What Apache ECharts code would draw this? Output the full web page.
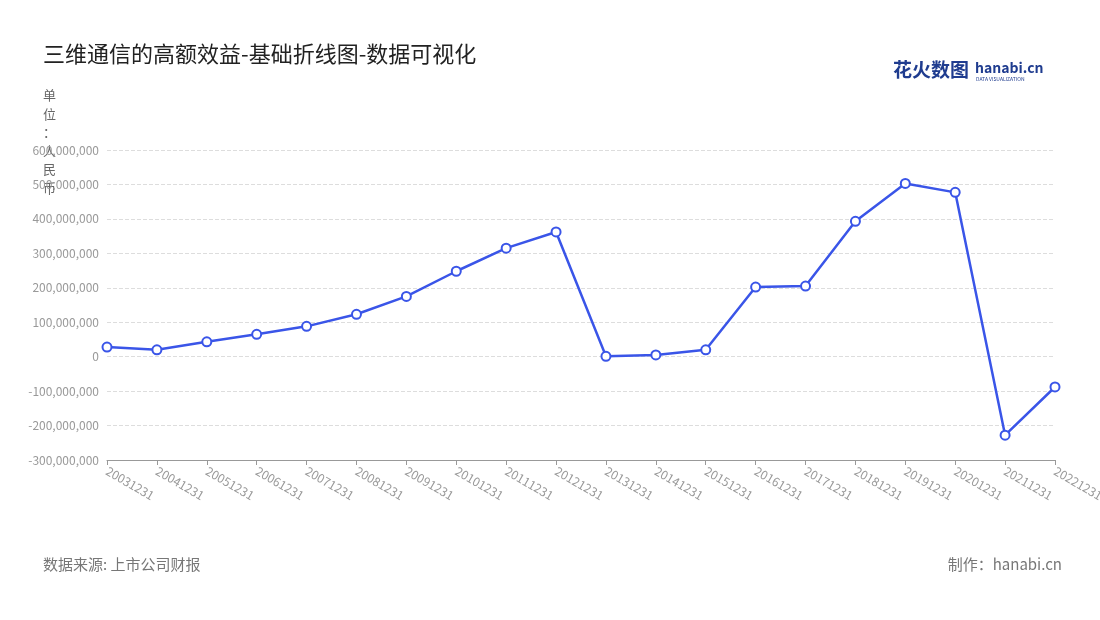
<!DOCTYPE html>
<html lang="zh">
<head>
    <meta charset="UTF-8">
    <title>三维通信的高额效益-基础折线图-数据可视化</title>
    <script src="https://cdn.jsdelivr.net/npm/echarts@6/dist/echarts.min.js"></script>
    <style>
        body { margin: 0; background: #fff; }
        #app { width: 1100px; height: 620px; }
    </style>
</head>
<body>
    <div id="app"></div>
    <script>
        var years = ['20031231', '20041231', '20051231', '20061231', '20071231', '20081231', '20091231',
            '20101231', '20111231', '20121231', '20131231', '20141231', '20151231', '20161231',
            '20171231', '20181231', '20191231', '20201231', '20211231', '20221231'];
        var profit = [28000000, 20000000, 43000000, 65000000, 88000000, 123000000, 175000000,
            248000000, 315000000, 362000000, 1000000, 5000000, 20000000, 202000000,
            205000000, 393000000, 503000000, 477000000, -228000000, -88000000];

        var myChart = echarts.init(document.getElementById('app'));
        var font = 'Noto Sans CJK SC';
        var option = {
            backgroundColor: '#fff',
            textStyle: { fontFamily: font },
            title: {
                text: '三维通信的高额效益-基础折线图-数据可视化',
                left: 38, top: 38,
                textStyle: { fontSize: 22, fontWeight: 'normal', color: '#222', fontFamily: font }
            },
            graphic: [
                { type: 'text', left: 43, top: 86, style: { text: '单\n位\n：\n人\n民\n币', fontSize: 13, lineHeight: 18.5, fill: '#666', fontFamily: font } },
                { type: 'text', left: 893, top: 60, style: { text: '花火数图', fontSize: 19, fontWeight: 'bold', fill: '#1f3c8f', fontFamily: font } },
                { type: 'text', left: 975, top: 61, style: { text: 'hanabi.cn', fontSize: 14, fontWeight: 'bold', fill: '#1f3c8f', fontFamily: font } },
                { type: 'text', left: 976, top: 77, style: { text: 'DATA VISUALIZATION', fontSize: 5, fill: '#1f3c8f', fontFamily: font } },
                { type: 'text', left: 43, top: 557, style: { text: '数据来源: 上市公司财报', fontSize: 15, fill: '#777', fontFamily: font } },
                { type: 'text', right: 38, top: 557, style: { text: '制作：hanabi.cn', fontSize: 15, fill: '#777', fontFamily: font } }
            ],
            grid: { left: 107, right: 45, top: 150, bottom: 160, outerBoundsMode: 'none' },
            xAxis: {
                type: 'category',
                data: years,
                boundaryGap: false,
                axisLine: { onZero: false, lineStyle: { color: '#999' } },
                axisTick: { lineStyle: { color: '#999' } },
                axisLabel: { rotate: -30, color: '#999', fontSize: 12, margin: 10 }
            },
            yAxis: {
                type: 'value',
                min: -300000000,
                max: 600000000,
                interval: 100000000,
                axisLine: { show: false },
                axisTick: { show: false },
                axisLabel: {
                    color: '#999', fontSize: 12,
                    formatter: function (v) { return v.toLocaleString('en-US'); }
                },
                splitLine: { lineStyle: { color: '#ddd', type: 'dashed' } }
            },
            series: [{
                type: 'line',
                data: profit,
                symbol: 'circle',
                symbolSize: 9,
                lineStyle: { color: '#3a55e8', width: 2.5 },
                itemStyle: { color: '#fff', borderColor: '#3a55e8', borderWidth: 2 }
            }]
        };
        myChart.setOption(option);
    </script>
</body>
</html>
